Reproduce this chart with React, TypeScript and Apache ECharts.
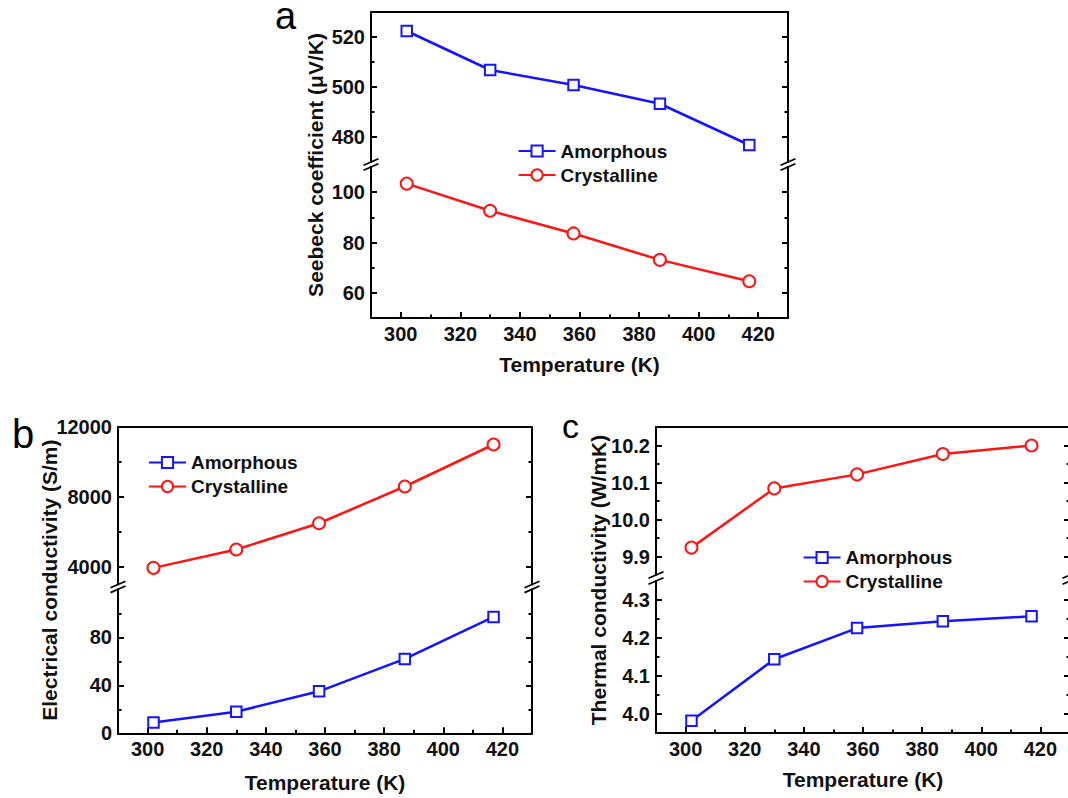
import React, { useEffect, useRef } from 'react';
import * as echarts from 'echarts';

// ---- data ----
const temperatures = [302, 330, 358, 387, 417];
const seebeckAmorphous = [522.4, 506.8, 500.8, 493.3, 476.8];
const seebeckCrystalline = [103.4, 92.6, 83.6, 73.1, 64.6];
const elecAmorphous = [9, 18, 35, 62, 97];
const elecCrystalline = [3950, 5000, 6500, 8600, 11000];
const thermAmorphous = [3.982, 4.144, 4.226, 4.244, 4.257];
const thermCrystalline = [9.924, 10.084, 10.122, 10.177, 10.2];

// ---- tick labels ----
const xTickLabels = [300, 320, 340, 360, 380, 400, 420];
const xMinorTicks = [310, 330, 350, 370, 390, 410];
const aUpperLabels = [480, 500, 520];
const aUpperMinor = [490, 510];
const aLowerLabels = [60, 80, 100];
const aLowerMinor = [70, 90];
const bUpperLabels = [4000, 8000, 12000];
const bUpperMinor = [6000, 10000];
const bLowerLabels = [0, 40, 80];
const bLowerMinor = [20, 60, 100];
const cUpperLabels = [9.9, 10.0, 10.1, 10.2];
const cUpperMinor = [9.95, 10.05, 10.15];
const cLowerLabels = [4.0, 4.1, 4.2, 4.3];
const cLowerMinor = [4.05, 4.15, 4.25];

const seriesNames = ['Amorphous', 'Crystalline'];

const FONT = "'Liberation Sans', Arial, Helvetica, sans-serif";
const BLUE = '#1414ff';
const RED = '#ff1414';
const INK = '#111111';

type Part = { top: number; height: number; min: number; max: number; labels: number[]; minor: number[]; decimals: number };
type Panel = {
  letter: string; letterX: number; letterY: number; letterSize: number;
  left: number; width: number;
  upper: Part; lower: Part;
  yTitle: string; yTitleX: number; nameGap: number;
  amorphous: { part: 'upper' | 'lower'; values: number[] };
  crystalline: { part: 'upper' | 'lower'; values: number[] };
  legendLeft: number; legendTop: number;
};

const panels: Panel[] = [
  {
    letter: 'a', letterX: 275, letterY: 16, letterSize: 38,
    left: 371, width: 417,
    upper: { top: 12, height: 150, min: 470, max: 530, labels: aUpperLabels, minor: aUpperMinor, decimals: 0 },
    lower: { top: 167, height: 151, min: 50, max: 110, labels: aLowerLabels, minor: aLowerMinor, decimals: 0 },
    yTitle: 'Seebeck coefficient (\u03bcV/K)', yTitleX: 315.5, nameGap: 36,
    amorphous: { part: 'upper', values: seebeckAmorphous },
    crystalline: { part: 'lower', values: seebeckCrystalline },
    legendLeft: 517.6, legendTop: 141.5,
  },
  {
    letter: 'b', letterX: 12, letterY: 434, letterSize: 40,
    left: 118, width: 414,
    upper: { top: 427, height: 157.5, min: 3000, max: 12000, labels: bUpperLabels, minor: bUpperMinor, decimals: 0 },
    lower: { top: 589.3, height: 144, min: 0, max: 120, labels: bLowerLabels, minor: bLowerMinor, decimals: 0 },
    yTitle: 'Electrical conductivity (S/m)', yTitleX: 49, nameGap: 39,
    amorphous: { part: 'lower', values: elecAmorphous },
    crystalline: { part: 'upper', values: elecCrystalline },
    legendLeft: 148, legendTop: 453,
  },
  {
    letter: 'c', letterX: 562, letterY: 426, letterSize: 34,
    left: 656, width: 414,
    upper: { top: 427, height: 148, min: 9.85, max: 10.25, labels: cUpperLabels, minor: cUpperMinor, decimals: 1 },
    lower: { top: 581, height: 152, min: 3.95, max: 4.35, labels: cLowerLabels, minor: cLowerMinor, decimals: 1 },
    yTitle: 'Thermal conductivity (W/mK)', yTitleX: 598, nameGap: 36,
    amorphous: { part: 'lower', values: thermAmorphous },
    crystalline: { part: 'upper', values: thermCrystalline },
    legendLeft: 802.6, legendTop: 548,
  },
];

const axisLineStyle = { color: '#000', width: 2 };
const labelText = { fontFamily: FONT, fontSize: 20, fontWeight: 'bold' as const, color: INK };

function buildOption() {
  const grid: any[] = [];
  const xAxis: any[] = [];
  const yAxis: any[] = [];
  const series: any[] = [];
  const legend: any[] = [];
  const graphic: any[] = [];

  panels.forEach((p) => {
    const parts: Array<['upper' | 'lower', Part]> = [['upper', p.upper], ['lower', p.lower]];
    const xIndexFor: Record<string, number> = {};
    const yIndexFor: Record<string, number> = {};

    parts.forEach(([key, part]) => {
      const gi = grid.length;
      grid.push({
        left: p.left, top: part.top, width: p.width, height: part.height,
        containLabel: false, outerBoundsMode: 'none',
      });

      if (key === 'upper') {
        xIndexFor[key] = xAxis.length;
        xAxis.push({
          type: 'value', gridIndex: gi, min: 290, max: 430, position: 'top',
          axisLine: { show: true, onZero: false, lineStyle: axisLineStyle },
          axisTick: { show: false }, axisLabel: { show: false }, splitLine: { show: false },
        });
      } else {
        xIndexFor[key] = xAxis.length;
        xAxis.push({
          type: 'value', gridIndex: gi, min: 290, max: 430, position: 'bottom',
          axisLine: { show: true, onZero: false, lineStyle: axisLineStyle },
          axisTick: { show: true, inside: true, length: 6, customValues: xTickLabels, lineStyle: axisLineStyle },
          axisLabel: { show: true, customValues: xTickLabels, margin: 6, ...labelText },
          splitLine: { show: false },
          name: 'Temperature (K)', nameLocation: 'middle', nameGap: p.nameGap,
          nameTextStyle: { fontFamily: FONT, fontSize: 21, fontWeight: 'bold', color: INK },
        });
        xAxis.push({
          type: 'value', gridIndex: gi, min: 290, max: 430, position: 'bottom',
          axisLine: { show: false, onZero: false },
          axisTick: { show: true, inside: true, length: 3.5, customValues: xMinorTicks, lineStyle: axisLineStyle },
          axisLabel: { show: false }, splitLine: { show: false },
        });
      }

      yIndexFor[key] = yAxis.length;
      (['left', 'right'] as const).forEach((side) => {
        yAxis.push({
          type: 'value', gridIndex: gi, min: part.min, max: part.max, position: side,
          axisLine: { show: true, onZero: false, lineStyle: axisLineStyle },
          axisTick: { show: true, inside: true, length: 6, customValues: part.labels, lineStyle: axisLineStyle },
          axisLabel: side === 'left'
            ? { show: true, customValues: part.labels, margin: 6, formatter: (v: number) => v.toFixed(part.decimals), ...labelText }
            : { show: false },
          splitLine: { show: false },
        });
        yAxis.push({
          type: 'value', gridIndex: gi, min: part.min, max: part.max, position: side,
          axisLine: { show: false, onZero: false },
          axisTick: { show: true, inside: true, length: 3.5, customValues: part.minor, lineStyle: axisLineStyle },
          axisLabel: { show: false }, splitLine: { show: false },
        });
      });
    });

    const addSeries = (name: string, cfg: { part: 'upper' | 'lower'; values: number[] }, color: string, symbol: string, size: number) => {
      series.push({
        type: 'line', name,
        xAxisIndex: xIndexFor[cfg.part], yAxisIndex: yIndexFor[cfg.part],
        data: temperatures.map((t, i) => [t, cfg.values[i]]),
        symbol, symbolSize: size, showAllSymbol: true,
        lineStyle: { color, width: 2.5 },
        itemStyle: { color, borderWidth: 1.6 },
        z: 3,
      });
    };
    addSeries(seriesNames[0], p.amorphous, BLUE, 'emptyRect', 10.5);
    addSeries(seriesNames[1], p.crystalline, RED, 'emptyCircle', 12);

    legend.push({
      left: p.legendLeft, top: p.legendTop, orient: 'vertical',
      itemWidth: 37, itemHeight: 14, itemGap: 5, padding: 0,
      selectedMode: false, data: seriesNames,
      textStyle: { fontFamily: FONT, fontSize: 19, fontWeight: 'bold', color: INK },
    });

    // panel letter
    graphic.push({
      type: 'text', x: p.letterX, y: p.letterY,
      style: {
        text: p.letter, font: `${p.letterSize}px ${FONT}`, lineHeight: 28,
        fill: '#000', textAlign: 'left', textVerticalAlign: 'middle',
      },
    });
    // y title
    const yMid = (p.upper.top + p.lower.top + p.lower.height) / 2;
    graphic.push({
      type: 'text', x: p.yTitleX, y: yMid, rotation: Math.PI / 2,
      style: { text: p.yTitle, font: `bold 21px ${FONT}`, fill: INK, textAlign: 'center', textVerticalAlign: 'middle' },
    });
    // axis break marks
    const gapTop = p.upper.top + p.upper.height;
    const gapBottom = p.lower.top;
    [p.left, p.left + p.width].forEach((x) => {
      [gapTop, gapBottom].forEach((y) => {
        graphic.push({
          type: 'line', z: 10,
          shape: { x1: x - 7.5, y1: y + 3.3, x2: x + 7.5, y2: y - 3.3 },
          style: { stroke: '#000', lineWidth: 1.8 },
        });
      });
    });
  });

  return { animation: false, backgroundColor: '#ffffff', grid, xAxis, yAxis, series, legend, graphic };
}

export default function App() {
  const ref = useRef<HTMLDivElement>(null);
  useEffect(() => {
    if (!ref.current) return;
    const chart = echarts.init(ref.current, undefined, { renderer: 'svg' });
    chart.setOption(buildOption() as any);
    return () => chart.dispose();
  }, []);
  return <div ref={ref} style={{ position: 'absolute', left: 0, top: 0, width: 1068, height: 798 }} />;
}
